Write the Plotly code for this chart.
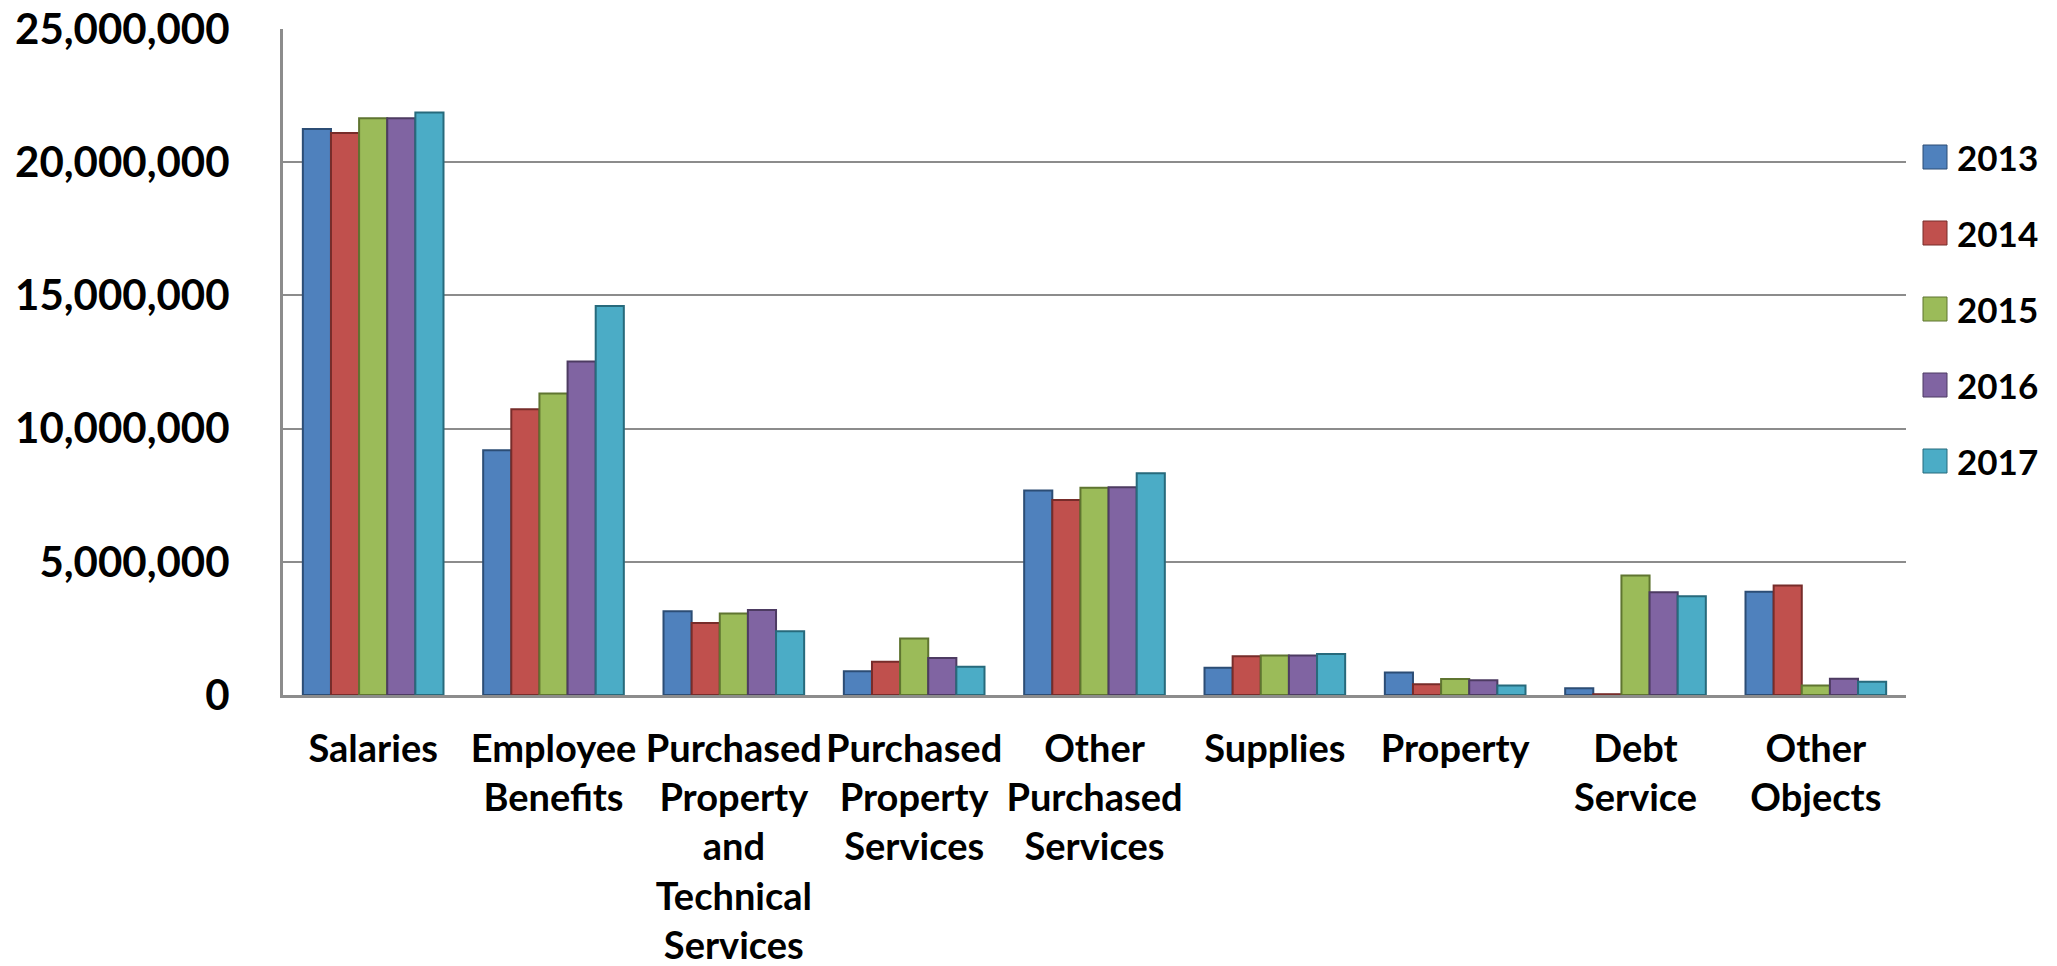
import plotly.graph_objects as go

# Expenditure by object, 2013-2017
categories = [
    "Salaries",
    "Employee<br>Benefits",
    "Purchased<br>Property<br>and<br>Technical<br>Services",
    "Purchased<br>Property<br>Services",
    "Other<br>Purchased<br>Services",
    "Supplies",
    "Property",
    "Debt<br>Service",
    "Other<br>Objects",
]

years = ["2013", "2014", "2015", "2016", "2017"]

values_2013 = [21250000, 9190000, 3140000, 890000, 7680000, 1020000, 840000, 250000, 3880000]
values_2014 = [21100000, 10730000, 2700000, 1250000, 7320000, 1450000, 400000, 30000, 4110000]
values_2015 = [21650000, 11320000, 3060000, 2120000, 7780000, 1480000, 600000, 4490000, 360000]
values_2016 = [21650000, 12520000, 3190000, 1390000, 7800000, 1480000, 550000, 3860000, 610000]
values_2017 = [21870000, 14600000, 2390000, 1060000, 8320000, 1540000, 360000, 3710000, 500000]

series = [values_2013, values_2014, values_2015, values_2016, values_2017]

colors = ["#4F81BD", "#C0504D", "#9BBB59", "#8064A2", "#4BACC6"]
edge_colors = ["#2C4D75", "#772C2A", "#5F7530", "#4D3B62", "#276A7C"]

y_ticks = [0, 5000000, 10000000, 15000000, 20000000, 25000000]

W, H = 2057, 966
M_L, M_R, M_T, M_B = 283, 151, 29, 271
FONT = "Lato"

fig = go.Figure()
for year, vals, c, ec in zip(years, series, colors, edge_colors):
    fig.add_trace(go.Bar(
        x=categories, y=vals, name=year,
        marker=dict(color=c, line=dict(color=ec, width=2)),
        showlegend=False,
    ))

# Legend drawn beside the plot area: coloured squares with year labels
plot_w = W - M_L - M_R
plot_h = H - M_T - M_B
legend_x0 = 1923
legend_y0 = 157
legend_step = 76
sq = 24
for i, (year, c, ec) in enumerate(zip(years, colors, edge_colors)):
    cy = legend_y0 + i * legend_step
    x0 = (legend_x0 - M_L) / plot_w
    x1 = (legend_x0 + sq - M_L) / plot_w
    y0 = (H - M_B - (cy + sq / 2)) / plot_h
    y1 = (H - M_B - (cy - sq / 2)) / plot_h
    fig.add_shape(type="rect", xref="paper", yref="paper",
                  x0=x0, x1=x1, y0=y0, y1=y1,
                  fillcolor=c, line=dict(color=ec, width=1))
    fig.add_annotation(xref="paper", yref="paper",
                       x=(legend_x0 + sq + 8 - M_L) / plot_w,
                       y=(H - M_B - cy) / plot_h,
                       text=year, showarrow=False,
                       xanchor="left", yanchor="middle",
                       font=dict(family=FONT, size=35, color="black", weight="bold"))

fig.update_layout(
    width=W, height=H,
    margin=dict(l=M_L, r=M_R, t=M_T, b=M_B, autoexpand=False),
    paper_bgcolor="white", plot_bgcolor="white",
    barmode="group", bargap=0.22, bargroupgap=0,
    font=dict(family=FONT, color="black"),
)
fig.update_xaxes(
    automargin=False,
    showline=True, linecolor="#8C8C8C", linewidth=3,
    ticks="", showgrid=False,
    tickfont=dict(family=FONT, size=38, color="black", weight="bold"),
    tickangle=0, ticklabelstandoff=18,
)
fig.update_yaxes(
    automargin=False,
    range=[0, 25000000], tickvals=y_ticks, tickformat=",d",
    showline=True, linecolor="#8C8C8C", linewidth=3,
    showgrid=True, gridcolor="#8C8C8C", gridwidth=2,
    zeroline=False, ticks="",
    tickfont=dict(family=FONT, size=42, color="black", weight="bold"),
    ticklabelstandoff=42,
)

fig.write_html("out.html")
